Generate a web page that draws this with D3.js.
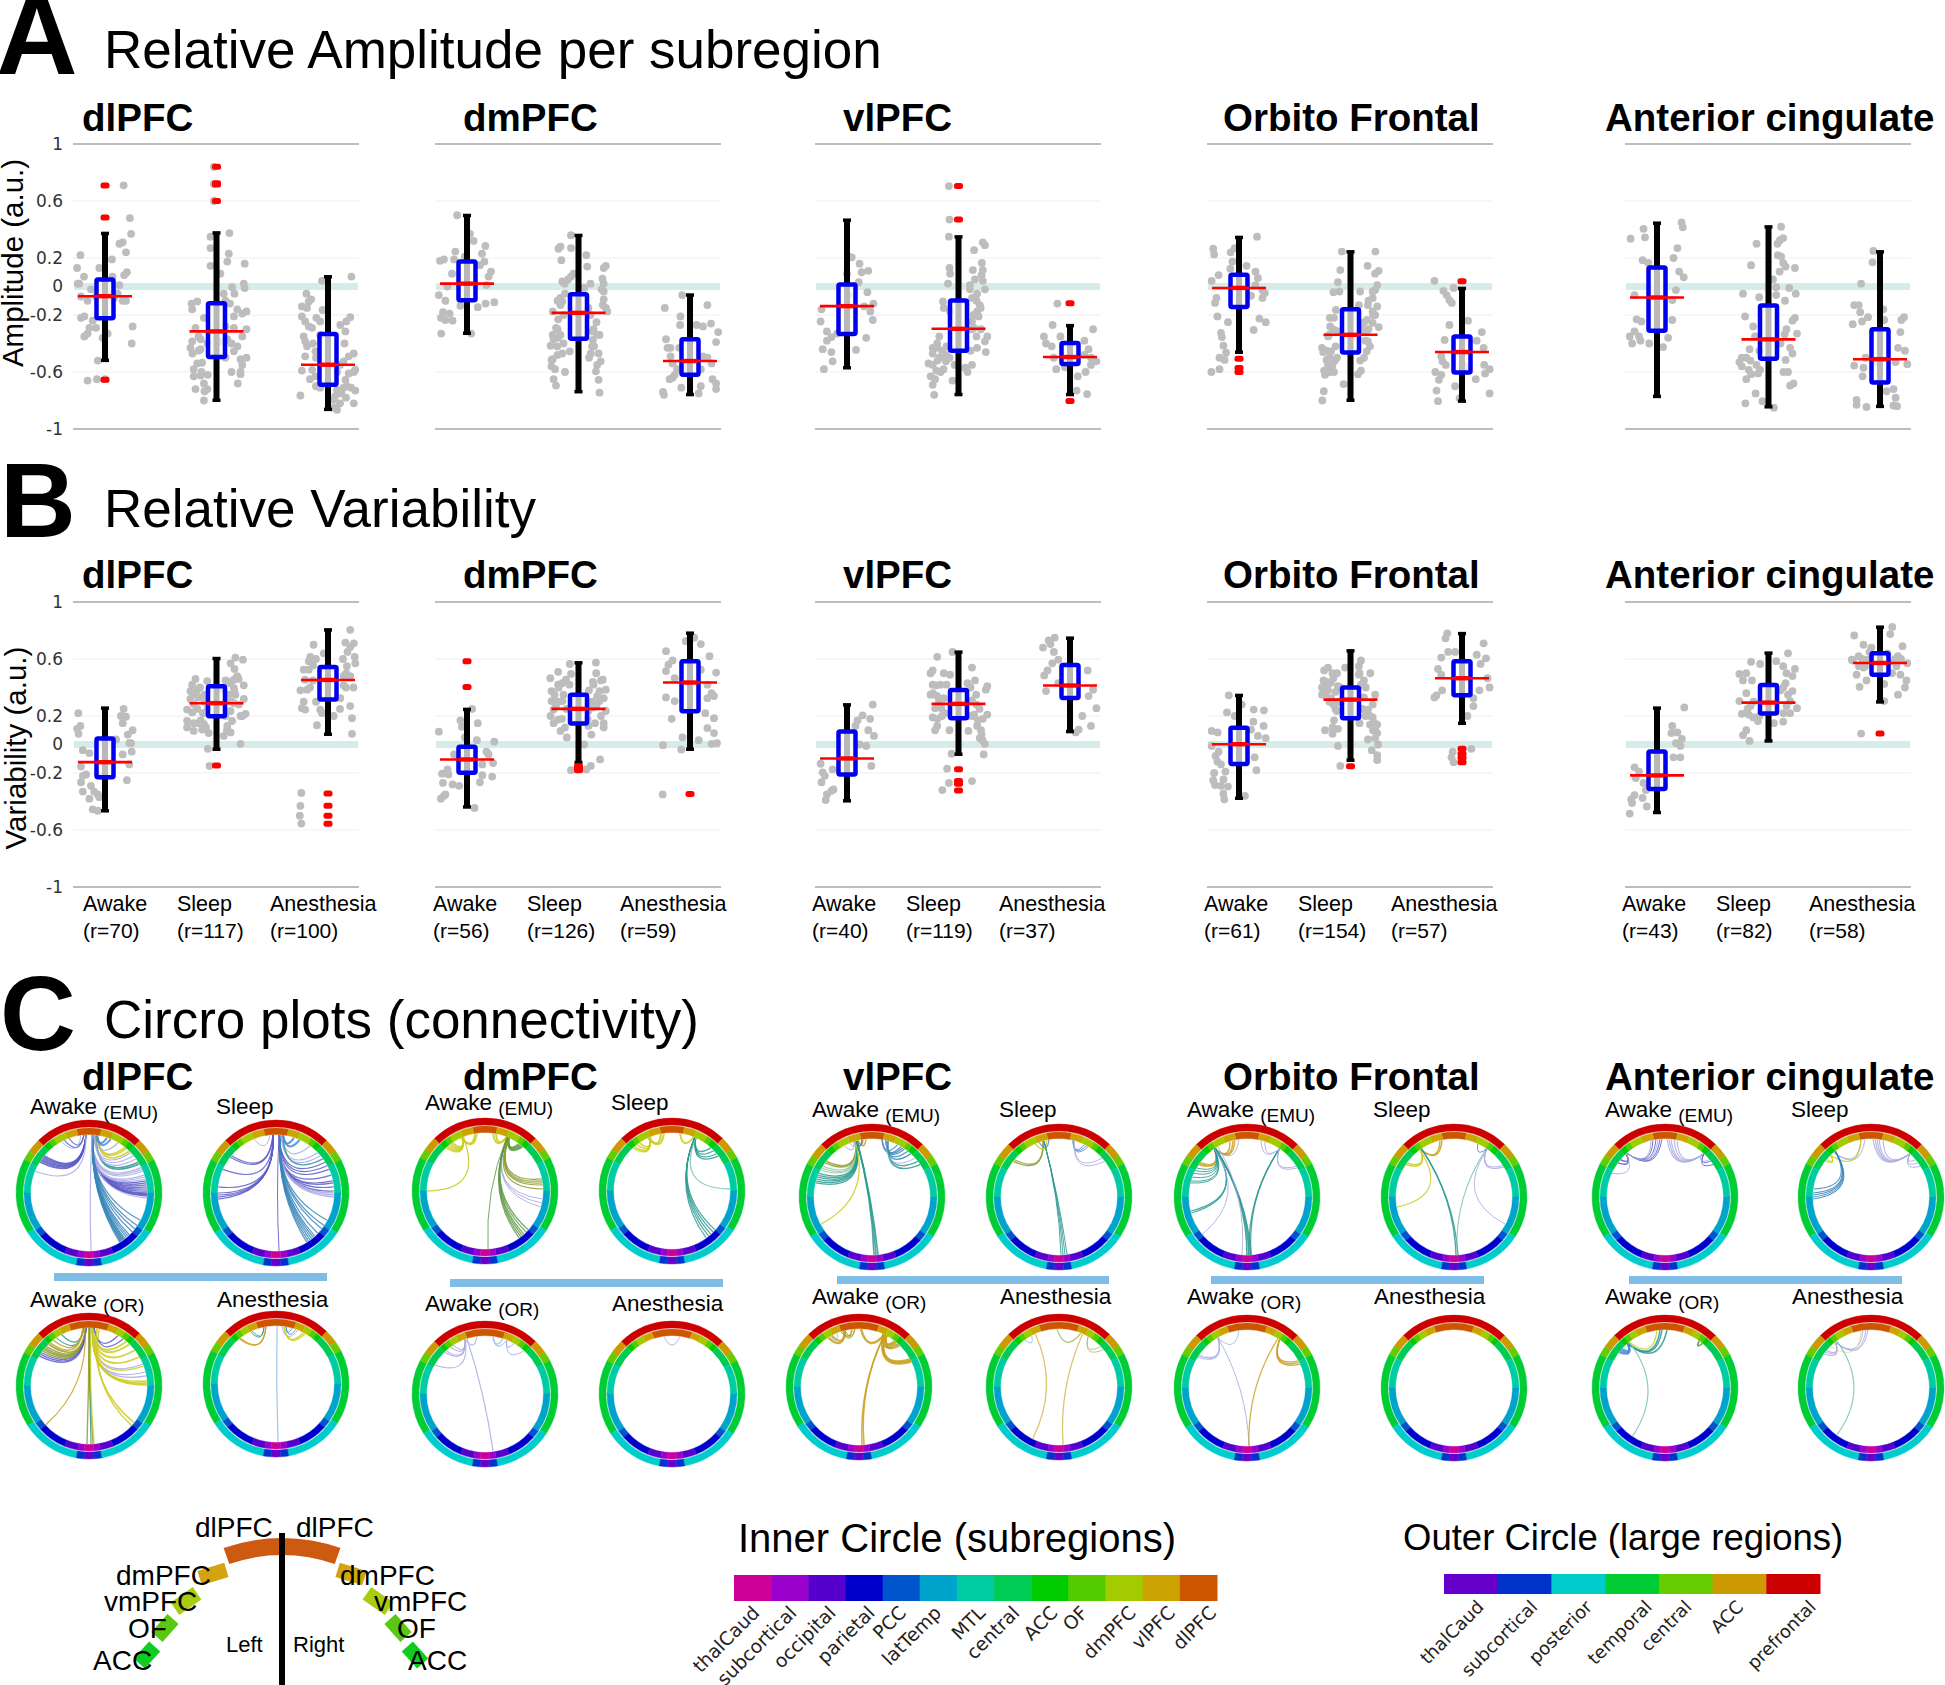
<!DOCTYPE html>
<html>
<head>
<meta charset="utf-8">
<script src="https://cdn.jsdelivr.net/npm/d3@7"></script>
<style>
  html, body { margin: 0; padding: 0; background: #fff; }
  text { font-family: "Liberation Sans", Arial, sans-serif; fill: #000; }
</style>
</head>
<body>
<div id="chart"></div>
<script>
// categories
const regions = ["dlPFC", "dmPFC", "vlPFC", "Orbito Frontal", "Anterior cingulate"];
const conditions = ["Awake", "Sleep", "Anesthesia"];
const recCounts = [[70, 117, 100], [56, 126, 59], [40, 119, 37], [61, 154, 57], [43, 82, 58]];
const yTicks = [1, 0.6, 0.2, 0, -0.2, -0.6, -1];

// box stats per region and condition: [low whisker, q1, median, q3, high whisker]
const ampStats = [
  [[-0.52, -0.222, -0.068, 0.05, 0.374], [-0.8, -0.495, -0.315, -0.117, 0.378], [-0.864, -0.689, -0.549, -0.334, 0.07]],
  [[-0.33, -0.096, 0.02, 0.175, 0.5], [-0.74, -0.367, -0.185, -0.054, 0.36], [-0.76, -0.62, -0.523, -0.37, -0.058]],
  [[-0.572, -0.334, -0.138, 0.014, 0.467], [-0.76, -0.45, -0.297, -0.098, 0.35], [-0.76, -0.544, -0.495, -0.397, -0.273]],
  [[-0.463, -0.143, -0.01, 0.082, 0.346], [-0.8, -0.463, -0.339, -0.159, 0.245], [-0.806, -0.603, -0.46, -0.35, -0.012]],
  [[-0.773, -0.31, -0.077, 0.133, 0.446], [-0.846, -0.507, -0.371, -0.133, 0.42], [-0.843, -0.673, -0.51, -0.3, 0.245]]
];
const varStats = [
  [[-0.467, -0.229, -0.124, 0.042, 0.257], [-0.035, 0.199, 0.29, 0.409, 0.605], [0.07, 0.315, 0.453, 0.544, 0.806]],
  [[-0.44, -0.199, -0.105, -0.016, 0.248], [-0.128, 0.147, 0.25, 0.35, 0.575], [-0.035, 0.234, 0.435, 0.584, 0.783]],
  [[-0.397, -0.21, -0.098, 0.091, 0.28], [-0.07, 0.185, 0.285, 0.383, 0.65], [0.089, 0.327, 0.414, 0.558, 0.748]],
  [[-0.379, -0.136, 0.002, 0.117, 0.346], [-0.112, 0.185, 0.315, 0.4, 0.659], [0.147, 0.346, 0.465, 0.584, 0.78]],
  [[-0.479, -0.313, -0.217, -0.049, 0.257], [0.023, 0.217, 0.294, 0.418, 0.643], [0.297, 0.49, 0.572, 0.64, 0.825]]
];

// outliers
const ampOutliers = [
  [[0.708, 0.484, -0.654], [0.84, 0.724, 0.715, 0.6], []],
  [[], [], []],
  [[], [0.706, 0.47], [-0.117, -0.804]],
  [[-0.507, -0.572, -0.6], [], [0.037]],
  [[], [], []]
];
const varOutliers = [
  [[], [-0.147], [-0.343, -0.43, -0.5, -0.556]],
  [[0.584, 0.404], [-0.152, -0.18, -0.165], [-0.348]],
  [[], [-0.173, -0.257, -0.276, -0.322], []],
  [[], [-0.152], [-0.03, -0.065, -0.093, -0.124]],
  [[], [], [0.077]]
];

// grey recordings: [jitter, value]
const ampPoints = [
  [
    [[.62,.71],[.83,.48],[.87,.37],[.59,.31],[.48,.3],[.7,.24],[-.82,.22],[.23,.19],[-.19,.13],[-.93,.13],[.73,.1],[.64,.08],[-.7,.07],[.25,.07],[-.86,.02],[-.91,.02],[.48,.01],[-.47,-.02],[-.8,-.07],[.42,-.05],[-.58,-.1],[.7,-.1],[.59,-.1],[-.3,-.07],[.2,-.05],[.31,-.08],[-.69,-.21],[-.8,-.22],[-.41,-.24],[-.3,-.29],[-.52,-.29],[.92,-.28],[-.58,-.33],[-.69,-.35],[-.08,-.36],[.09,-.33],[.89,-.4],[-.24,-.52],[-.58,-.66],[-.27,-.65],[0,-.65]],
    [[-.09,.84],[-.09,.72],[-.09,.6],[-.2,.35],[.43,.375],[-.2,.27],[.41,.23],[.36,.175],[.94,.16],[-.2,.145],[.13,.09],[.91,.02],[.94,-.01],[.52,-.005],[.24,-.05],[-.64,-.105],[-.83,-.12],[.69,-.16],[1,-.175],[.86,-.19],[.58,-.21],[-.81,-.16],[-.42,-.22],[-.7,-.29],[.58,-.29],[1,-.3],[-.81,-.385],[-.53,-.37],[.13,-.385],[.36,-.37],[.86,-.35],[-.87,-.43],[-.53,-.44],[.58,-.455],[1,-.5],[.8,-.51],[-.64,-.54],[-.48,-.535],[-.76,-.58],[.86,-.55],[.8,-.6],[-.76,-.63],[-.53,-.625],[-.29,-.62],[.8,-.615],[-.42,-.68],[.71,-.68],[-.7,-.72],[-.4,-.735],[-.42,-.8],[-.6,-.45],[-.8,-.47],[.5,-.4],[.7,-.42],[-.5,-.6],[.5,-.6],[-.3,-.72],[.3,-.5],[.45,-.12],[.3,-.1],[.6,-.05],[-.6,-.35],[-.3,-.4],[.3,-.28]],
    [[.78,.07],[-.2,.04],[-.72,-.05],[-.56,-.09],[-.64,-.105],[-.87,-.14],[-.7,-.15],[-.18,-.165],[-.87,-.21],[-.76,-.245],[-.39,-.22],[-.26,-.245],[.74,-.215],[.61,-.245],[-.64,-.28],[-.53,-.29],[.41,-.27],[.58,-.315],[-.81,-.35],[-.26,-.34],[-.76,-.385],[-.7,-.42],[.86,-.47],[.69,-.49],[-.76,-.49],[-.42,-.455],[.52,-.525],[-.87,-.59],[-.53,-.585],[.86,-.6],[.69,-.61],[.91,-.585],[-.42,-.63],[.58,-.655],[.63,-.7],[-.26,-.71],[.52,-.71],[.77,-.71],[.91,-.73],[.3,-.725],[.24,-.77],[-.92,-.765],[.86,-.82],[.3,-.865],[.19,-.795],[-.5,-.4],[-.4,-.5],[.4,-.55],[.55,-.4],[-.6,-.65],[.3,-.6],[.45,-.75],[.6,-.78],[-.4,-.7],[.4,-.82],[.2,-.85]]
  ],
  [
    [[-.33,.5],[.1,.37],[.22,.32],[.61,.285],[-.39,.245],[.5,.23],[-.9,.18],[-.77,.19],[-.43,.19],[.58,.175],[.43,.15],[.8,.105],[.72,.07],[-.5,.09],[-.07,.21],[.65,.01],[-.65,0],[-.94,-.06],[-.72,-.1],[.91,-.11],[.62,-.12],[.36,-.145],[-.22,-.135],[-.8,-.18],[-.58,-.19],[-.87,-.22],[-.72,-.235],[-.48,-.24],[-.86,-.33],[.14,-.33]],
    [[-.25,.36],[-.6,.28],[-.67,.265],[-.25,.27],[.26,.22],[-.57,.185],[.91,.145],[.84,.13],[.29,.14],[-.17,.09],[-.25,.07],[.8,.055],[.84,.02],[-.54,.035],[-.46,.02],[.19,-.01],[.77,-.02],[.84,-.035],[-.6,-.08],[-.54,-.105],[.84,-.09],[.81,-.13],[-.6,-.13],[.91,-.15],[.96,-.175],[-.86,-.175],[.33,-.15],[-.68,-.23],[-.75,-.29],[-.86,-.34],[-.6,-.34],[-.68,-.36],[-.83,-.37],[.48,-.315],[.62,-.34],[.7,-.34],[.48,-.375],[-.93,-.415],[-.71,-.42],[-.29,-.455],[-.54,-.47],[.52,-.42],[.41,-.47],[.67,-.47],[-.9,-.515],[-.86,-.51],[.74,-.525],[.62,-.55],[-.9,-.56],[-.78,-.58],[.58,-.595],[.67,-.655],[-.83,-.65],[-.75,-.695],[.7,-.745],[-.45,-.05],[-.7,-.1],[-.5,-.2],[-.7,-.3],[.6,-.25],[.4,-.2],[.5,-.3],[.45,-.42],[-.5,-.4],[-.45,-.6],[-.7,-.48],[.35,-.5],[-.35,.05],[.4,.02]],
    [[-.26,-.06],[.58,-.13],[-.84,-.15],[-.32,-.21],[-.33,-.27],[.22,-.27],[.43,-.28],[.7,-.26],[.94,-.32],[-.8,-.37],[.87,-.39],[-.75,-.43],[-.65,-.43],[-.36,-.43],[-.65,-.49],[.43,-.49],[.58,-.5],[-.58,-.54],[.72,-.54],[-.43,-.58],[-.14,-.57],[.36,-.58],[-.58,-.64],[-.68,-.65],[.75,-.65],[.87,-.68],[.36,-.7],[.87,-.72],[.29,-.75],[-.9,-.74],[-.87,-.76],[-.29,-.71],[-.51,-.62]]
  ],
  [
    [[.06,.21],[.16,.205],[.42,.16],[.71,.11],[.49,.1],[.39,.03],[.68,-.04],[.88,-.12],[.57,-.14],[.78,-.175],[.86,-.235],[-.88,-.245],[-.67,-.315],[-.33,-.33],[-.52,-.355],[-.67,-.38],[.64,-.36],[-.81,-.44],[.3,-.445],[-.52,-.46],[-.48,-.525],[-.77,-.58],[-.85,-.16],[.06,-.06],[0,.09]],
    [[-.32,.705],[-.3,.47],[-.32,.35],[.81,.31],[.88,.29],[.52,.255],[.78,.165],[-.3,.13],[.81,.115],[.48,.115],[-.28,.09],[.77,.08],[.81,.04],[-.35,.02],[.38,.01],[.38,-.02],[.88,-.02],[.62,-.05],[-.52,-.105],[.45,-.08],[.71,-.13],[.62,-.175],[.74,-.15],[.67,-.21],[-.49,-.15],[-.28,-.175],[.45,-.245],[.52,-.29],[.96,-.35],[.88,-.385],[-.64,-.35],[-.71,-.4],[.62,-.43],[-.86,-.43],[-.71,-.43],[-.86,-.47],[.91,-.46],[-.42,-.48],[-.64,-.5],[-1,-.54],[-.86,-.55],[-.42,-.525],[-.13,-.55],[.23,-.57],[-.74,-.59],[-.93,-.63],[-.78,-.65],[-.86,-.69],[-.2,-.66],[-.81,-.76],[.55,.05],[.6,-.1],[.5,-.2],[.45,-.3],[.6,-.35],[.75,-.3],[-.55,-.45],[-.7,-.52],[-.5,-.58],[-.3,-.5],[-.6,-.6],[.4,-.45],[.45,-.55],[.3,-.6],[-.4,-.42]],
    [[-.42,-.12],[-.58,-.27],[.77,-.3],[-.87,-.35],[-.8,-.4],[-.32,-.35],[.48,-.38],[-.61,-.42],[.62,-.44],[.48,-.48],[.7,-.5],[.88,-.525],[.7,-.55],[-.46,-.58],[-.17,-.565],[.52,-.6],[.26,-.63],[.22,-.73],[.57,-.755],[-.54,-.5]]
  ],
  [
    [[.6,.35],[-.86,.265],[-.83,.225],[-.28,.24],[-.14,.27],[-.22,.175],[.25,.145],[.55,.105],[-.68,.08],[.63,.06],[-.91,.04],[-.29,.125],[.55,.01],[.78,-.025],[.86,-.045],[.78,-.08],[.4,-.065],[-.75,-.08],[-.8,-.115],[-.72,-.21],[.68,-.225],[.89,-.25],[-.37,-.25],[.49,-.305],[-.6,-.325],[-.57,-.355],[-.52,-.415],[-.43,-.465],[-.65,-.5],[-.48,-.515],[-.65,-.58],[-.92,-.6]],
    [[-.29,.245],[.83,.245],[.57,.145],[.94,.11],[.82,.09],[-.34,.115],[-.42,.03],[.89,.01],[.82,-.025],[.32,-.035],[.74,-.035],[-.37,-.035],[-.57,-.04],[.74,-.08],[.28,-.13],[.58,-.13],[.89,-.14],[.74,-.175],[.82,-.2],[-.49,-.165],[-.69,-.22],[.54,-.235],[.74,-.255],[.94,-.285],[-.68,-.28],[-.54,-.305],[-.72,-.34],[-.42,-.315],[.51,-.315],[.58,-.385],[-.95,-.43],[-.91,-.46],[-.65,-.455],[.54,-.455],[-.8,-.515],[-.52,-.52],[.32,-.52],[-.68,-.56],[-.88,-.59],[-.85,-.62],[.35,-.59],[.25,-.615],[-.23,-.685],[-.89,-.735],[-.94,-.8],[.6,-.1],[.75,-.2],[.6,-.3],[.45,-.25],[.5,-.38],[.65,-.42],[-.6,-.3],[-.75,-.35],[-.5,-.42],[-.8,-.45],[-.7,-.5],[-.6,-.55],[-.75,-.55],[-.45,-.5],[-.55,-.6],[-.7,-.6],[.45,-.5],[.38,-.3],[-.55,-.22]],
    [[-.92,.04],[-.62,-.03],[-.28,-.01],[-.51,-.06],[-.42,-.095],[-.34,-.115],[.2,-.24],[-.42,-.27],[.66,-.32],[-.58,-.375],[.49,-.38],[.72,-.43],[-.69,-.49],[-.65,-.525],[-.54,-.55],[.12,-.56],[.74,-.55],[.92,-.58],[.77,-.61],[-.89,-.6],[-.69,-.62],[-.77,-.655],[.46,-.65],[-.23,-.7],[-.85,-.73],[.92,-.75],[-.8,-.805],[-.08,-.785]]
  ],
  [
    [[.82,.45],[.86,.415],[-.45,.405],[-.88,.335],[-.4,.345],[.68,.27],[-.48,.185],[-.29,.165],[.55,.2],[.74,.105],[.89,.065],[.63,-.025],[-.75,-.06],[.51,-.095],[-.68,-.23],[-.52,-.245],[.51,-.235],[-.75,-.315],[-.91,-.35],[-.6,-.35],[-.83,-.4],[-.55,-.38],[.37,-.36],[-.26,-.4],[.2,-.425]],
    [[.42,.42],[.49,.34],[.38,.325],[-.4,.3],[.31,.22],[.42,.21],[-.58,.15],[.49,.165],[.57,.14],[.88,.13],[.37,.105],[.15,.05],[.26,-.005],[.69,-.01],[-.85,-.05],[.91,-.05],[-.31,-.075],[.26,-.06],[-.78,-.21],[.88,-.22],[.8,-.24],[-.51,-.28],[.95,-.33],[.54,-.335],[-.63,-.44],[.72,-.43],[.8,-.47],[-.89,-.5],[-.74,-.5],[-.97,-.53],[-.89,-.56],[.57,-.515],[-.66,-.585],[-.35,-.61],[-.28,-.585],[-.58,-.615],[.65,-.6],[-.74,-.65],[.83,-.68],[.72,-.695],[-.43,-.75],[-.77,-.82],[-.2,-.805],[.18,-.85],[-.4,-.55],[-.6,-.52],[.5,-.6],[.6,-.3],[.4,-.4],[-.3,-.45],[-.45,-.35],[.55,-.1],[.3,.3]],
    [[-.22,.25],[-.25,.17],[-.63,.02],[-.86,-.13],[-.71,-.13],[-.66,-.18],[.11,-.16],[-.4,-.215],[-.6,-.245],[.8,-.215],[.71,-.235],[.14,-.235],[-.91,-.265],[.68,-.32],[.6,-.43],[.83,-.45],[.91,-.545],[.52,-.53],[-.86,-.555],[-.55,-.57],[-.58,-.63],[.22,-.735],[.45,-.72],[.52,-.78],[-.78,-.795],[-.78,-.83],[-.45,-.845],[.45,-.835],[.57,-.84],[-.17,-.53],[-.48,-.5]]
  ]
];
const varPoints = [
  [
    [[.62,.25],[-.89,.22],[.53,.2],[.7,.195],[.59,.15],[-.82,.13],[-.93,.11],[.92,.1],[.76,.07],[-.88,.075],[.37,.035],[.87,.01],[.81,.01],[-.74,-.04],[-.52,-.06],[.89,-.05],[.59,-.07],[.81,-.14],[-.8,-.155],[-.63,-.21],[-.74,-.22],[-.8,-.265],[.73,-.25],[-.47,-.29],[-.74,-.33],[-.36,-.33],[-.24,-.35],[-.52,-.38],[-.19,-.37],[-.41,-.455],[-.24,-.465],[-.13,-.22]],
    [[.63,.61],[.88,.595],[.47,.57],[.6,.53],[-.7,.46],[.69,.48],[.58,.455],[.74,.46],[-.81,.42],[-.31,.445],[.36,.445],[.91,.415],[-.87,.375],[-.64,.385],[.58,.395],[.63,.35],[-.87,.32],[.91,.32],[-.76,.285],[.58,.29],[.74,.28],[-.98,.245],[-.64,.25],[-.81,.225],[.47,.235],[.97,.215],[.86,.2],[-.53,.17],[-.98,.165],[-.76,.15],[.52,.165],[.8,.2],[-.42,.145],[-.98,.12],[-.76,.095],[-.48,.105],[.36,.13],[.47,.085],[.24,.06],[-.29,-.03],[.8,.005],[-.23,-.15],[.13,.385],[-.26,.08],[.47,.43],[-.4,.3],[-.6,.33],[.3,.3],[-.55,.4],[-.4,.35],[.4,.35],[.3,.45],[-.3,.25],[.3,.2],[-.45,.22],[.5,.3],[.6,.37],[-.7,.35],[-.6,.15],[.35,.1],[-.35,.12]],
    [[.74,.805],[-.48,.7],[.58,.715],[.86,.71],[.74,.685],[-.14,.64],[-.59,.615],[.89,.615],[-.64,.585],[-.5,.555],[.91,.57],[-.81,.525],[-.64,.525],[.63,.55],[.61,.5],[-.76,.455],[.52,.48],[.74,.48],[-.92,.38],[-.7,.385],[.52,.415],[-.81,.3],[.41,.325],[-.87,.255],[-.76,.245],[.74,.27],[-.2,.22],[.8,.185],[-.26,.245],[-.37,.135],[.8,.075],[.19,.2],[-.89,-.34],[-.92,-.43],[-.94,-.5],[-.89,-.555],[-.5,.45],[.5,.6],[-.4,.6],[.6,.4],[-.6,.4],[.4,.25],[-.4,.3],[.85,.4],[.65,.65]]
  ],
  [
    [[.17,.25],[-.22,.17],[.36,.15],[-.94,.09],[-.17,.125],[.91,.02],[.33,.03],[-.07,.05],[.65,-.05],[.72,-.07],[.87,-.13],[-.43,-.07],[.51,-.14],[-.65,-.175],[-.83,-.205],[-.62,-.21],[.51,-.215],[.84,-.225],[-.8,-.27],[-.48,-.28],[-.26,-.29],[.43,-.265],[-.72,-.35],[-.87,-.38],[-.77,-.36],[.25,-.445]],
    [[-.29,.565],[.58,.575],[-.94,.465],[-.68,.51],[-.25,.495],[.59,.5],[.81,.455],[-.42,.455],[-.68,.42],[.48,.44],[-.9,.375],[.91,.385],[.7,.375],[-.54,.43],[-.9,.305],[.84,.325],[.7,.305],[-.54,.305],[.91,.235],[-.83,.245],[-.93,.2],[-.68,.175],[-.83,.15],[.84,.15],[.84,.12],[.33,.13],[-.6,.095],[-.39,.05],[.43,.07],[.19,0],[.72,-.105],[.41,-.15],[-.25,-.18],[.26,-.175],[.33,.235],[.48,.26],[-.66,.4],[.62,.34],[-.75,.27],[.75,.2],[-.5,.35],[-.7,.3],[-.4,.25],[.5,.42],[.75,.45],[.6,.27],[.45,.3],[-.8,.35],[-.55,.18],[.55,.15],[-.45,.12],[.3,.18],[-.3,.42],[.35,.38]],
    [[.14,.75],[-.14,.725],[.36,.705],[-.8,.655],[.65,.62],[-.58,.59],[-.72,.56],[-.8,.515],[.87,.505],[.36,.525],[-.51,.465],[.58,.42],[.72,.36],[-.8,.33],[.8,.34],[-.51,.305],[.58,.325],[.51,.22],[-.61,.18],[.8,.185],[.58,.115],[.8,.08],[.29,.03],[-.25,.05],[-.9,-.005],[-.29,-.035],[.72,.005],[.9,.01],[-.91,-.35]]
  ],
  [
    [[.86,.28],[.52,.205],[.77,.18],[.35,.17],[.71,.1],[.28,.13],[.9,.06],[.42,0],[.64,-.01],[.81,-.15],[-.88,-.135],[-.81,-.195],[-.48,-.175],[-.74,-.22],[-.85,-.265],[-.45,-.315],[-.67,-.35],[-.52,-.325],[-.71,-.39]],
    [[-.71,.615],[-.2,.65],[.45,.54],[-.86,.52],[-.49,.5],[-.93,.5],[-.28,.49],[-.86,.42],[-.74,.415],[.3,.43],[.96,.41],[.91,.385],[-.93,.35],[-.71,.34],[.59,.35],[-.49,.325],[-.85,.36],[-.78,.255],[-.57,.255],[.96,.21],[.52,.21],[-.86,.19],[.81,.18],[-.71,.13],[.62,.13],[-.78,.1],[-.3,.1],[.33,.095],[.77,.07],[.71,.045],[.88,.005],[.84,-.07],[-.23,-.065],[-.38,-.17],[-.32,-.27],[.45,-.257],[-.54,-.32],[.6,.28],[.45,.31],[-.65,.3],[-.55,.2],[-.45,.22],[.5,.2],[.65,.17],[.7,.25],[.75,.1],[-.6,.42],[.35,.2],[-.4,.42],[.4,.4],[.55,.45],[-.7,.18],[.8,.03]],
    [[-.51,.75],[-.71,.73],[-.65,.705],[-.9,.68],[-.54,.65],[-.39,.595],[-.59,.57],[-.75,.52],[.59,.52],[-.86,.485],[-.39,.43],[.77,.385],[-.8,.375],[.62,.34],[.88,.255],[.41,.2],[.7,.13],[.29,.105],[.19,.085]]
  ],
  [
    [[-.34,.345],[.09,.28],[.49,.245],[.83,.24],[-.4,.225],[-.14,.2],[.48,.16],[.82,.13],[-.91,.095],[-.71,.085],[.4,.105],[.89,.045],[.63,.06],[-.91,-.01],[-.68,-.05],[-.78,-.08],[.52,-.09],[-.72,-.12],[-.6,-.14],[.58,-.18],[-.83,-.2],[-.45,-.19],[-.86,-.25],[-.52,-.245],[-.8,-.285],[-.37,-.295],[-.6,-.29],[-.52,-.345],[-.49,-.385],[.2,-.36]],
    [[.35,.59],[.28,.55],[-.75,.54],[-.88,.52],[-.18,.54],[-.57,.465],[.28,.49],[.66,.5],[-.95,.4],[-.88,.365],[-.65,.435],[.51,.4],[-.8,.44],[-.42,.41],[-.95,.35],[-.65,.325],[.82,.35],[-.57,.28],[.74,.28],[.58,.245],[-.46,.235],[.74,.19],[.89,.14],[-.6,.12],[-.85,.1],[-.42,.11],[.82,.105],[-.6,.075],[.89,.08],[.58,.035],[.82,.045],[-.42,-.01],[.92,0],[.71,-.04],[.89,-.075],[.89,-.11],[-.34,-.15],[-.75,.38],[-.5,.37],[.45,.33],[-.35,.4],[-.7,.3],[-.5,.25],[-.45,.5],[-.6,.5],[.4,.25],[.5,.2],[.65,.14],[.75,.1],[-.75,.42],[-.85,.35],[.35,.42],[.45,.45],[.3,.5],[-.4,.3],[-.9,.45],[.65,.2],[.8,.15],[-.55,.17],[.3,.15]],
    [[-.49,.78],[-.55,.745],[.72,.71],[-.46,.65],[-.23,.65],[-.69,.61],[.49,.63],[.8,.605],[.62,.565],[-.8,.53],[-.69,.49],[.85,.465],[.92,.4],[.58,.38],[-.66,.38],[-.85,.345],[-.92,.33],[.38,.325],[.38,.27],[.18,.2],[.31,-.03],[-.31,-.05],[-.35,-.09],[-.28,-.125]]
  ],
  [
    [[.91,.26],[.51,.13],[.48,.08],[.68,.085],[.83,.04],[.63,.01],[.78,-.01],[.78,-.09],[.55,-.09],[-.75,-.16],[-.6,-.19],[-.71,-.235],[-.45,-.27],[-.37,-.32],[-.75,-.355],[-.48,-.375],[-.86,-.385],[-.83,-.41],[-.34,-.435],[-.91,-.485]],
    [[.65,.64],[-.58,.58],[-.28,.565],[.26,.585],[.49,.55],[.88,.53],[-.74,.5],[-.97,.495],[.8,.48],[-.85,.45],[.57,.43],[.49,.4],[-.74,.36],[.8,.375],[-.97,.305],[.72,.305],[.95,.255],[-.89,.215],[-.66,.21],[.72,.22],[-.51,.19],[-.35,.165],[.18,.15],[.49,.16],[-.74,.1],[-.85,.065],[-.63,.025],[-.5,.3],[-.6,.27],[.6,.27],[.4,.38],[.65,.35],[-.7,.25],[-.3,.2],[.5,.22],[-.55,.45],[.6,.5]],
    [[.41,.825],[-.86,.765],[.34,.775],[-.55,.7],[.75,.69],[-.29,.68],[-.94,.595],[-.71,.62],[-.48,.595],[.6,.62],[.91,.57],[-.78,.49],[.68,.49],[.88,.45],[.83,.4],[.14,.425],[-.68,.405],[.6,.35],[.14,.305],[-.63,.077],[-.3,.6],[.45,.58],[-.55,.54],[.55,.55],[-.9,.59],[.25,.64],[-.5,.55],[-.6,.6],[.4,.5],[.5,.6],[-.45,.45],[.7,.6],[-.35,.65],[-.7,.55]]
  ]
];

// ring segments in degrees from the top, one side (both sides are mirrored)
const outerNames = ["prefrontal", "ACC", "central", "temporal", "posterior", "subcortical", "thalCaud"];
const outerStops = [0, 44, 55, 63, 123, 170, 176.5, 180];
const innerNames = ["dlPFC", "vlPFC", "dmPFC", "OF", "ACC", "central", "MTL", "latTemp", "PCC", "parietal", "occipital", "subcortical", "thalCaud"];
const innerStopsEMU = [0, 11, 22, 33, 38, 44, 63, 90, 125, 132, 158, 170, 176, 180];
const innerStopsOR = [0, 18, 27, 34, 39, 44, 63, 90, 125, 132, 158, 170, 176, 180];

// connectivity links, one row per bundle: [from deg, [to deg...], kind, weight]
const linksDlEMU = [
  [3, [78, 80, 82, 84, 86, 88, 90, 91, 92, 93], "violet", 1.3], [3, [64, 66, 68, 72, 74, 76], "paleViolet", 1.2], [4, [95], "paleViolet", 1.2],
  [4, [118, 124, 128, 132, 136, 138, 140, 142, 143, 144, 145, 146, 147, 148], "steel", 1.3], [7, [58, 60], "teal", 1.5], [8, [38, 40, 44], "yellow", 1.6],
  [5, [30, 46, 50, 54], "paleViolet", 1.2], [8, [18, 22], "blue", 2],
  [-3, [-50, -51, -52, -53, -54, -55, -56, -57, -58], "violet", 1.1], [-3, [-68], "paleViolet", 1.2], [-5, [-25, -20], "violet", 1.2], [-8, [-28], "paleViolet", 1], [3, [178], "paleViolet", 1.2]
];
const linksDlSleep = [
  [3, [58, 62, 66, 72, 78, 80, 84, 88], "violet", 1.2], [3, [90, 92, 94], "paleViolet", 1.3], [4, [118, 124, 128, 134, 138, 140, 142, 144, 146, 148], "steel", 1.3],
  [5, [36, 46, 50], "paleViolet", 1.2], [7, [54], "teal", 1.4], [7, [18, 24], "blue", 2],
  [-3, [-50, -52, -66], "violet", 1.2], [-3, [-84, -90, -92, -94, -96], "violet", 1.2], [-6, [-22], "paleViolet", 1], [3, [177], "violet", 1]
];
const linksDlOR = [
  [-3, [-44, -47, -49, -51, -53], "olive", 1.6], [-3, [-55, -57, -59], "violet", 1.2], [-5, [-28, -34], "teal", 1.2], [-6, [-38, -42], "gold", 1.4],
  [3, [40, 44, 52, 60], "yellow", 1.8], [4, [68, 76, 80], "paleViolet", 1.2], [4, [70, 85, 87, 88, 89], "yellow", 1.5], [5, [30, 36], "violet", 1.2],
  [8, [129], "yellow", 1.6], [10, [133], "yellow", 1.4], [-4, [-132], "gold", 1.2], [0, [-178, 176], "olive", 1.4], [1, [178], "teal", 1.2], [2, [175], "yellow", 1.4]
];
const linksDlAnes = [[-10, [-38, -39], "gold", 1.2], [-12, [-24, -26], "teal", 1], [6, [22], "paleViolet", 1], [8, [28, 30], "yellow", 1.4], [10, [16, 20], "blue", 1], [1, [178], "paleBlue", 1.2]];

const linksDmEMU = [
  [-24, [-8, -10], "yellow", 2], [-22, [-34, -36, -38, -40, -42], "yellow", 1.6], [-22, [-90], "yellow", 1.3],
  [22, [8, 11], "yellow", 2], [24, [36, 38, 40], "green", 2.2], [24, [78, 80, 82, 84, 88], "olive", 1.2], [23, [98, 102, 106], "paleViolet", 1], [23, [132, 135, 138, 140, 142, 144], "green", 1.2], [22, [177], "green", 1]
];
const linksDmSleep = [[-24, [-8, -11], "yellow", 2.2], [-22, [-34, -37, -40, -42], "yellow", 1.6], [22, [8], "yellow", 2], [24, [42, 46, 50, 53], "teal", 1.3], [24, [88], "paleTeal", 1.3], [23, [132, 135, 138, 141, 144], "teal", 1.1]];
const linksDmOR = [[-20, [-8, -33, -36], "paleViolet", 1.1], [-20, [-42, -44, -60], "paleViolet", 1.1], [-18, [172], "paleViolet", 1.2], [8, [22, 18], "paleBlue", 1.1], [22, [30, 42], "paleViolet", 1]];
const linksDmAnes = [[-8, [8], "paleViolet", 1]];

const linksVlEMU = [
  [-14, [-6, -9], "gold", 1.5], [-10, [-16, -18], "blue", 1.2], [-16, [-52, -54], "olive", 1.5], [-16, [-58, -60, -62], "paleGreen", 1.1],
  [-16, [-66, -68, -70, -72, -74, -76], "teal", 1.3], [-17, [-118], "yellow", 1.3], [-15, [174, 176, 178], "teal", 1.6], [-18, [-22, -28], "paleViolet", 1],
  [10, [26, 30], "blue", 1.4], [14, [32, 34, 38, 42], "steel", 1.3], [16, [52, 56], "teal", 1.4], [14, [48], "paleViolet", 1]
];
const linksVlSleep = [[-16, [-50, -52], "olive", 1.3], [-12, [-24], "yellow", 1.2], [-10, [-20], "blue", 1.2], [-15, [172, 174, 176, 178], "teal", 1], [14, [26, 28, 30], "blue", 1], [15, [48, 52], "paleViolet", 1]];
const linksVlOR = [
  [-16, [-7], "gold", 2], [-14, [-28, -32], "gold", 2.2], [-22, [-30], "paleBlue", 1], [-4, [-14, -18], "olive", 1], [2, [26], "gold", 2.6], [28, [38, 40, 44], "gold", 2.4], [24, [42], "olive", 1.2],
  [26, [62, 64], "gold", 3], [26, [175, 177], "gold", 1.5]
];
const linksVlAnes = [[-28, [-36], "paleBlue", 1], [-24, [-153], "paleGold", 1.3], [-2, [22], "paleOlive", 1.3], [24, [176], "paleGold", 1.3], [30, [46, 50], "paleOlive", 1]];

const linksOfEMU = [
  [-34, [-12, -14, -17], "gold", 1.5], [-34, [-8], "paleViolet", 1], [-34, [-54, -56], "gold", 1.7], [-34, [-60, -63, -66, -70, -74, -76], "teal", 1], [-34, [-104, -106], "teal", 1.2],
  [-33, [176, 178], "teal", 1.6], [-33, [180], "teal", 1.6], [-34, [-130], "paleViolet", 1], [-30, [-175], "paleViolet", 1],
  [34, [176, 178], "teal", 1.3], [34, [58, 60], "paleViolet", 1], [34, [14, 18], "paleViolet", 1]
];
const linksOfSleep = [[-35, [-12, -14], "gold", 1.5], [-35, [-54, -56], "yellow", 1.6], [-36, [-100], "yellow", 1.2], [-34, [176, 178], "teal", 1.3], [34, [177], "paleTeal", 1.1], [34, [57, 59], "paleViolet", 1.1], [35, [118], "paleViolet", 1], [34, [24], "blue", 1]];
const linksOfOR = [[-30, [-8], "paleBlue", 1], [-30, [-56, -58], "paleViolet", 1.2], [-30, [178], "paleViolet", 1], [32, [178], "gold", 1.2], [34, [62, 64, 66], "gold", 1.3]];
const linksOfAnes = [];

const linksAcEMU = [
  [-41, [-12, -9, -5, -3], "violet", 1], [-41, [-14, -7], "paleViolet", 1], [-42, [-50, -54], "violet", 1.5], [-42, [-66], "paleViolet", 1],
  [42, [12, 9, 6, 4, 2], "paleViolet", 1.1], [42, [52, 56], "violet", 1], [40, [50], "paleViolet", 1]
];
const linksAcSleep = [
  [-40, [-10, -6], "paleViolet", 1], [-44, [-10], "yellow", 1.2], [-44, [-50, -52], "yellow", 1.2], [-38, [-82, -86, -88, -90, -92], "steel", 1.1],
  [42, [12, 8, 6, 4, 2], "paleViolet", 1.1], [42, [50, 54, 58], "paleViolet", 1]
];
const linksAcOR = [[-38, [-8], "yellow", 1.2], [-40, [-3, -5, 2], "teal", 1.5], [-40, [-48, -50, -52], "blue", 2], [-38, [-146], "paleTeal", 1.2], [40, [36], "green", 2]];
const linksAcAnes = [[-38, [-8, -5, -3], "paleViolet", 1], [-38, [-50, -52, -54], "paleViolet", 1.1], [-44, [-10], "paleYellow", 1], [-36, [-144], "paleTeal", 1.2]];

const circleLabels = ["Awake", "Sleep", "Awake", "Anesthesia"];
const circleSuffix = ["(EMU)", "", "(OR)", ""];
const circleLinks = [
  [linksDlEMU, linksDlSleep, linksDlOR, linksDlAnes],
  [linksDmEMU, linksDmSleep, linksDmOR, linksDmAnes],
  [linksVlEMU, linksVlSleep, linksVlOR, linksVlAnes],
  [linksOfEMU, linksOfSleep, linksOfOR, linksOfAnes],
  [linksAcEMU, linksAcSleep, linksAcOR, linksAcAnes]
];

// legends
const innerLegend = ["thalCaud", "subcortical", "occipital", "parietal", "PCC", "latTemp", "MTL", "central", "ACC", "OF", "dmPFC", "vlPFC", "dlPFC"];
const outerLegend = ["thalCaud", "subcortical", "posterior", "temporal", "central", "ACC", "prefrontal"];
const sideRegions = ["dlPFC", "dmPFC", "vmPFC", "OF", "ACC"];

// colours
const innerColor = d3.scaleOrdinal(innerLegend, ["#cc0099", "#9900cc", "#5500cc", "#0000cc", "#0055cc", "#00a3cc", "#00cca3", "#00cc55", "#00cc00", "#55cc00", "#a3cc00", "#cca300", "#cc5500"]);
const outerColor = d3.scaleOrdinal(outerLegend, ["#6600cc", "#0033cc", "#00cccc", "#00cc33", "#66cc00", "#cc9900", "#cc0000"]);
const linkColor = {
  violet: "#5a5ac8", paleViolet: "#a9a9e4", steel: "#3a86b8", blue: "#4a88d8", paleBlue: "#92bce6", teal: "#2b9a90", paleTeal: "#7ac4b4",
  green: "#5f9a48", paleGreen: "#8cc8a0", olive: "#8f9c30", paleOlive: "#a8c070", yellow: "#cccc22", paleYellow: "#e0e090", gold: "#c9a020", paleGold: "#d8b860"
};
const sideColor = d3.scaleOrdinal(sideRegions, ["#cc5a10", "#d4a410", "#a8cc10", "#58c810", "#10cc20"]);

// layout
const panelX = [73, 435, 815, 1207, 1625];
const panelW = 286;
const titleX = [82, 463, 843, 1223, 1605];
const labelX = [83, 433, 812, 1204, 1622];
const labelStep = [0, 94, 187];
const rowTop = { A: 144, B: 602 };
const rowH = 285;
const circleCx = [[89, 276, 89, 276], [485, 672, 485, 672], [872, 1059, 859, 1059], [1247, 1454, 1247, 1454], [1665, 1871, 1665, 1871]];
const circleCy = [[1193, 1193, 1386, 1384], [1191, 1191, 1394, 1394], [1197, 1197, 1387, 1387], [1197, 1197, 1388, 1388], [1197, 1197, 1388, 1388]];
const circleLabelX = [[30, 216, 30, 217], [425, 611, 425, 612], [812, 999, 812, 1000], [1187, 1373, 1187, 1374], [1605, 1791, 1605, 1792]];
const circleLabelY = [[1114, 1307], [1110, 1311], [1117, 1304], [1117, 1304], [1117, 1304]];
const barX = [[54, 327], [450, 723], [837, 1109], [1211, 1484], [1629, 1902]];
const barY = [1277, 1283, 1280, 1280, 1280];
const jitterPx = 30;

const svg = d3.select("#chart").append("svg")
  .attr("width", 1945)
  .attr("height", 1685)
  .style("display", "block");

function drawHeader(letter, letterSize, letterX, title, letterY, titleY) {
  svg.append("text").attr("x", letterX).attr("y", letterY)
    .style("font-size", letterSize + "px").style("font-weight", 700).text(letter);
  svg.append("text").attr("x", 104).attr("y", titleY).style("font-size", "53px").text(title);
}
drawHeader("A", 113, -4, "Relative Amplitude per subregion", 74, 68);
drawHeader("B", 105, 0, "Relative Variability", 537, 527);
drawHeader("C", 105, 0, "Circro plots (connectivity)", 1050, 1038);

function drawRegionTitles(y) {
  regions.forEach((r, i) => {
    svg.append("text").attr("x", titleX[i]).attr("y", y)
      .style("font-size", "38.5px").style("font-weight", 700).text(r);
  });
}
drawRegionTitles(131);
drawRegionTitles(588);
drawRegionTitles(1090);

function drawRow(top, stats, outliers, points, yLabel, yLabelX, yLabelMid) {
  const y = d3.scaleLinear().domain([-1, 1]).range([top + rowH, top]);
  const jitter = d3.scaleLinear().domain([-1, 1]).range([-jitterPx, jitterPx]);

  regions.forEach((region, p) => {
    const x = d3.scalePoint().domain(conditions).range([panelX[p] + 32, panelX[p] + 255]);
    const g = svg.append("g").attr("class", "panel");

    g.selectAll(".grid").data(yTicks).enter().append("line")
      .attr("x1", panelX[p]).attr("x2", panelX[p] + panelW)
      .attr("y1", d => y(d)).attr("y2", d => y(d))
      .attr("stroke", d => Math.abs(d) === 1 ? "#a8a8a8" : "#f0f0f0")
      .attr("stroke-width", d => Math.abs(d) === 1 ? 1.5 : 1.2);
    g.append("rect").attr("x", panelX[p] + 1).attr("width", panelW - 2)
      .attr("y", y(0) - 3.5).attr("height", 7).attr("fill", "#d6ecea");

    conditions.forEach((c, k) => {
      const cx = x(c);
      const [lo, q1, med, q3, hi] = stats[p][k];

      g.selectAll(".pt").data(points[p][k]).enter().append("circle")
        .attr("cx", d => cx + jitter(d[0])).attr("cy", d => y(d[1]))
        .attr("r", 3.9).attr("fill", "#bdbdbd");

      // whisker
      g.append("rect").attr("x", cx - 3).attr("width", 6).attr("y", y(hi)).attr("height", y(lo) - y(hi)).attr("fill", "#000");
      g.append("rect").attr("x", cx - 4).attr("width", 8).attr("y", y(hi) - 1.5).attr("height", 3.5).attr("fill", "#000");
      g.append("rect").attr("x", cx - 4).attr("width", 8).attr("y", y(lo) - 2).attr("height", 3.5).attr("fill", "#000");

      // box
      g.append("rect").attr("x", cx - 8.5).attr("width", 17).attr("y", y(q3)).attr("height", y(q1) - y(q3))
        .attr("rx", 1.5).attr("fill", "#fff").attr("fill-opacity", 0.72)
        .attr("stroke", "#0000ee").attr("stroke-width", 4.5);

      // median
      g.append("line").attr("x1", cx - 27).attr("x2", cx + 27).attr("y1", y(med)).attr("y2", y(med))
        .attr("stroke", "#f00").attr("stroke-width", 2.6);
      g.append("rect").attr("x", cx - 7.5).attr("width", 15).attr("y", y(med) - 2.2).attr("height", 4.4).attr("fill", "#f00");

      g.selectAll(".out").data(outliers[p][k]).enter().append("rect")
        .attr("x", cx - 4.5).attr("width", 9).attr("y", d => y(d) - 3).attr("height", 6)
        .attr("rx", 2.5).attr("fill", "#f00");
    });

    if (p === 0) {
      const axis = g.append("g").attr("transform", `translate(63,0)`)
        .call(d3.axisLeft(y).tickValues(yTicks).tickSize(0).tickPadding(0).tickFormat(String));
      axis.select(".domain").remove();
      axis.selectAll("text").style("font-family", "'DejaVu Sans'").style("font-size", "17px").style("fill", "#333");
    }
  });

  svg.append("text")
    .attr("transform", `translate(${yLabelX},${yLabelMid}) rotate(-90)`)
    .attr("text-anchor", "middle").style("font-size", "29.5px").text(yLabel);
}
drawRow(rowTop.A, ampStats, ampOutliers, ampPoints, "Amplitude (a.u.)", 23, 263);
drawRow(rowTop.B, varStats, varOutliers, varPoints, "Variability (a.u.)", 26, 748);

// condition labels under row B
regions.forEach((r, p) => {
  conditions.forEach((c, k) => {
    svg.append("text").attr("x", labelX[p] + labelStep[k]).attr("y", 911).style("font-size", "21.5px").text(c);
    svg.append("text").attr("x", labelX[p] + labelStep[k]).attr("y", 938).style("font-size", "21px").text(`(r=${recCounts[p][k]})`);
  });
});

// circular plots
const angle = d3.scaleLinear().domain([0, 360]).range([0, 2 * Math.PI]);
const outerArc = d3.arc().innerRadius(66).outerRadius(73);
const innerArc = d3.arc().innerRadius(58.5).outerRadius(65);
const linkR = 58;

function polar(r, deg) {
  return [r * Math.sin(angle(deg)), -r * Math.cos(angle(deg))];
}

function linkPath(a, b) {
  const diff = Math.min(Math.abs(a - b), 360 - Math.abs(a - b));
  const k = Math.max(0, 1 - diff / 70) * 0.9;
  const pa = polar(1, a);
  const pb = polar(1, b);
  const len = Math.hypot(pa[0] + pb[0], pa[1] + pb[1]) || 1;
  const path = d3.path();
  path.moveTo(pa[0] * linkR, pa[1] * linkR);
  path.quadraticCurveTo((pa[0] + pb[0]) / len * linkR * k, (pa[1] + pb[1]) / len * linkR * k, pb[0] * linkR, pb[1] * linkR);
  return path.toString();
}

function drawRing(g, arc, names, stops, color) {
  [1, -1].forEach(side => {
    names.forEach((n, i) => {
      g.append("path")
        .attr("d", arc({ startAngle: angle(side * stops[i]), endAngle: angle(side * stops[i + 1]) }))
        .attr("fill", color(n))
        .attr("stroke", color(n)).attr("stroke-width", 0.4);
    });
  });
}

regions.forEach((region, p) => {
  circleLinks[p].forEach((links, c) => {
    const g = svg.append("g").attr("transform", `translate(${circleCx[p][c]},${circleCy[p][c]})`);
    drawRing(g, outerArc, outerNames, outerStops, outerColor);
    drawRing(g, innerArc, innerNames, c < 2 ? innerStopsEMU : innerStopsOR, innerColor);

    links.forEach(([from, targets, kind, weight]) => {
      targets.forEach(to => {
        g.append("path").attr("d", linkPath(from, to))
          .attr("fill", "none")
          .attr("stroke", linkColor[kind])
          .attr("stroke-width", weight)
          .attr("stroke-opacity", 0.85);
      });
    });

    const rowIdx = c < 2 ? 0 : 1;
    const label = svg.append("text").attr("x", circleLabelX[p][c]).attr("y", circleLabelY[p][rowIdx]);
    label.append("tspan").style("font-size", "22.5px").text(circleLabels[c]);
    if (circleSuffix[c]) {
      label.append("tspan").attr("dx", 6).attr("dy", 5).style("font-size", "19px").text(circleSuffix[c]);
    }
  });
  svg.append("rect").attr("x", barX[p][0]).attr("width", barX[p][1] - barX[p][0])
    .attr("y", barY[p] - 4).attr("height", 8).attr("fill", "#7fbde6");
});

// dlPFC side legend
const sideX = { L: [195, 116, 104, 128, 93], R: [296, 340, 374, 397, 408] };
const sideY = [1537, 1585, 1611, 1638, 1670];
const sideCx = { L: [0, 213, 186, 165, 147], R: [0, 351, 378, 398, 415] };
const sideCy = [0, 1574, 1601, 1628, 1655];
const sideRot = [0, 17, 35, 48, 48];
const sideLen = [0, 28, 27, 24, 23];

svg.append("path")
  .attr("transform", "translate(282,1713)")
  .attr("d", d3.arc().innerRadius(158).outerRadius(175)({ startAngle: angle(-19.5), endAngle: angle(19.5) }))
  .attr("fill", sideColor("dlPFC"));

sideRegions.forEach((name, i) => {
  if (i > 0) {
    ["L", "R"].forEach(s => {
      svg.append("rect")
        .attr("x", -sideLen[i] / 2).attr("width", sideLen[i]).attr("y", -7.5).attr("height", 15)
        .attr("transform", `translate(${sideCx[s][i]},${sideCy[i]}) rotate(${s === "L" ? -sideRot[i] : sideRot[i]})`)
        .attr("fill", sideColor(name));
    });
  }
});
sideRegions.forEach((name, i) => {
  ["L", "R"].forEach(s => {
    svg.append("text").attr("x", sideX[s][i]).attr("y", sideY[i]).style("font-size", "28px").text(name);
  });
});
svg.append("rect").attr("x", 279).attr("y", 1533).attr("width", 6).attr("height", 152).attr("fill", "#000");
svg.append("text").attr("x", 226).attr("y", 1652).style("font-size", "22px").text("Left");
svg.append("text").attr("x", 293).attr("y", 1652).style("font-size", "22px").text("Right");

// colour bar legends
function drawColorBar(names, color, x0, x1, y0, y1, title, titleSize, titleX, titleY, labelY, offsets, fontSize) {
  const x = d3.scaleBand().domain(names).range([x0, x1]);
  svg.append("text").attr("x", titleX).attr("y", titleY).style("font-size", titleSize + "px").text(title);
  svg.selectAll(null).data(names).enter().append("rect")
    .attr("x", d => x(d)).attr("y", y0).attr("width", x.bandwidth() + 0.5).attr("height", y1 - y0)
    .attr("fill", d => color(d));
  svg.selectAll(null).data(names).enter().append("text")
    .attr("transform", (d, i) => `translate(${x(d) + x.bandwidth() / 2 + offsets[i]},${labelY}) rotate(-45)`)
    .attr("text-anchor", "end")
    .style("font-family", "'DejaVu Sans'").style("font-size", fontSize + "px").style("fill", "#222")
    .text(d => d);
}
drawColorBar(innerLegend, innerColor, 734, 1217, 1575, 1601, "Inner Circle (subregions)", 40, 738, 1552, 1614,
  [8, 8, 10, 12, 6, 4, 11, 8, 9, 2, 13, 15, 19], 18.8);
drawColorBar(outerLegend, outerColor, 1444, 1820, 1574, 1594, "Outer Circle (large regions)", 36.5, 1403, 1550, 1608,
  [14, 14, 15, 21, 7, 5, 24], 18);
</script>
</body>
</html>
